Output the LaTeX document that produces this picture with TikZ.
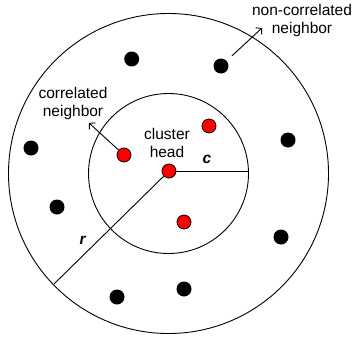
\documentclass[tikz,border=0pt]{standalone}
\usepackage{fontspec}
\usetikzlibrary{arrows.meta}
\setmainfont{Liberation Sans}
\begin{document}
\begin{tikzpicture}[x=1pt,y=-1pt,line width=0.9pt,
  every node/.style={font=\fontsize{15.5}{18}\selectfont,align=center},
  blackdot/.style={circle,fill=black,inner sep=0pt,minimum size=15pt},
  reddot/.style={circle,draw=black,fill=red,inner sep=0pt,minimum size=14pt,line width=0.8pt},
  pointer/.style={-{Straight Barb[length=4pt,width=9pt]}}]
\useasboundingbox (0,0) rectangle (355,340);
\coordinate (ctr) at (168.5,173.5);
\draw (ctr) circle [radius=160];
\draw (ctr) circle [radius=80];
% non-correlated neighbors
\node[blackdot] (b1) at (131.7,59) {};
\node[blackdot] (b2) at (221,66) {};
\node[blackdot] (b3) at (31,148) {};
\node[blackdot] (b4) at (288,140) {};
\node[blackdot] (b5) at (57,207) {};
\node[blackdot] (b6) at (281,237) {};
\node[blackdot] (b7) at (117,297) {};
\node[blackdot] (b8) at (184,289) {};
% correlated neighbors and cluster head
\node[reddot] (r1) at (209,126) {};
\node[reddot] (r2) at (124,155) {};
\node[reddot] (r3) at (184,222) {};
\node[reddot] (head) at (169,171) {};
% radii
\coordinate (cend) at (248.5,171);
\coordinate (rend) at (54,284);
\draw (head) -- (cend);
\draw (head) -- (rend);
\node (clbl) at (207,159) {\textbf{\textit{c}}};
\node (rlbl) at (83,240) {\textbf{\textit{r}}};
% labels
\node (headlbl) at (167,143) {cluster\\head};
\node (corlbl) at (73,103) {correlated\\neighbor};
\node (noncorlbl) at (302,20) {non-correlated\\neighbor};
\coordinate (cortip) at (89,123);
\coordinate (noncortip) at (262,28);
\draw[pointer] (r2) -- (cortip);
\draw[pointer,shorten <=7pt] (b2) -- (noncortip);
\end{tikzpicture}
\end{document}
